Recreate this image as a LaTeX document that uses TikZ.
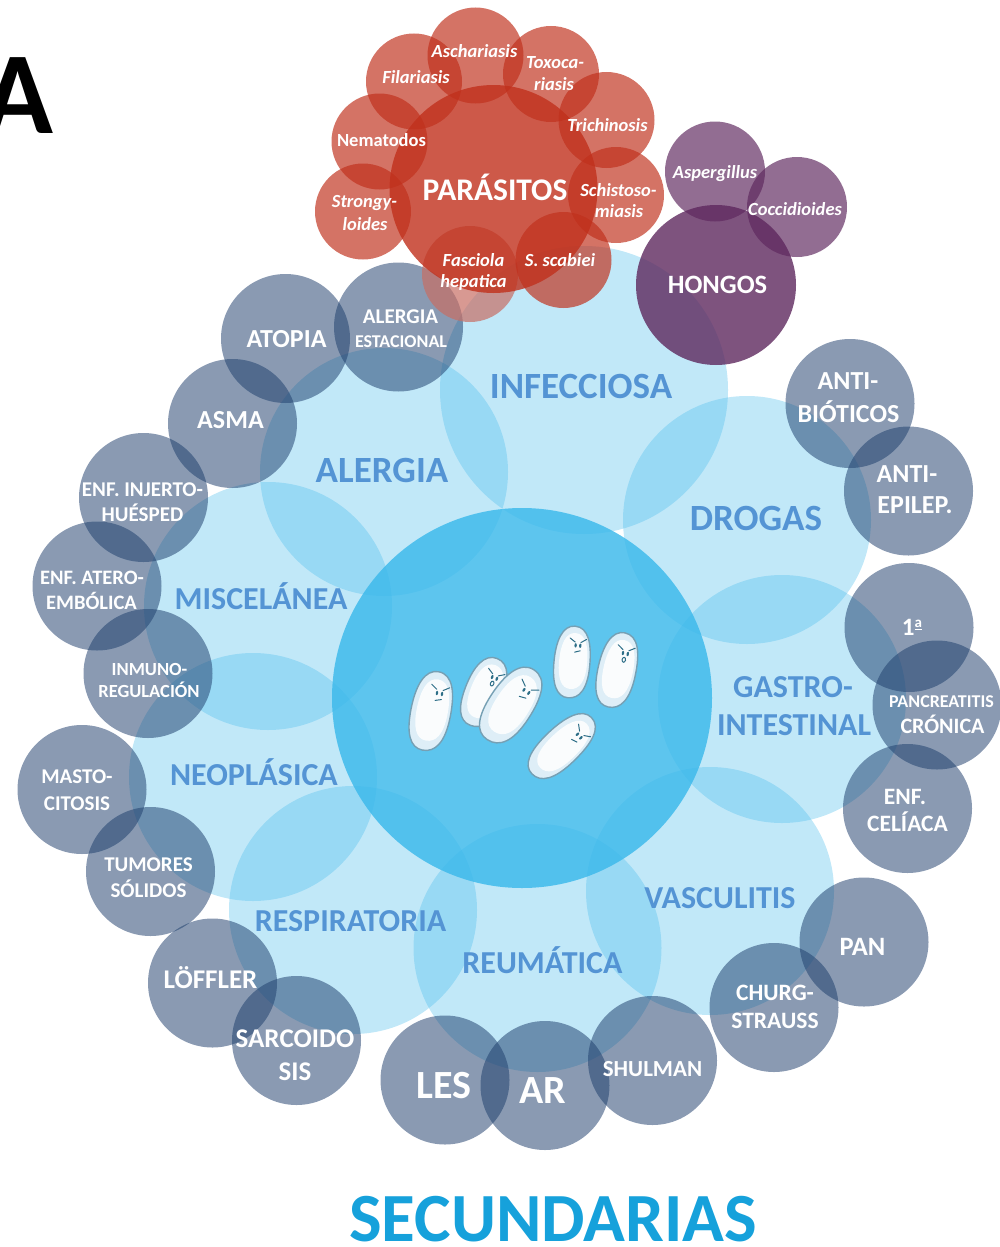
\documentclass[tikz,border=0pt]{standalone}
\usepackage{fontspec}
\setmainfont{Carlito}
\definecolor{skycat}{RGB}{77,189,236}
\definecolor{corecol}{RGB}{60,185,235}
\definecolor{slate}{RGB}{30,62,108}
\definecolor{rust}{RGB}{192,48,28}
\definecolor{rustpale}{RGB}{200,110,100}
\definecolor{plum}{RGB}{94,40,94}
\definecolor{catlabel}{RGB}{84,148,212}
\definecolor{titleblue}{RGB}{22,161,219}
\definecolor{cellfill}{RGB}{222,238,247}
\definecolor{cellrim}{RGB}{118,160,180}
\definecolor{cellface}{RGB}{45,110,135}
\newcommand\fsz[1]{\fontsize{#1}{#1}\selectfont}
% outline of a rod-shaped cell, half length #1, half width #2
\newcommand\rodpath[2]{(0,-#1) .. controls (0.75*#2,-#1) and (#2,-0.55*#1) .. (#2,0.05*#1)
  .. controls (#2,0.7*#1) and (0.6*#2,#1) .. (-0.05*#2,#1)
  .. controls (-0.7*#2,#1) and (-#2,0.65*#1) .. (-#2,0.05*#1)
  .. controls (-#2,-0.55*#1) and (-0.7*#2,-#1) .. (0,-#1) -- cycle}
% one cell: x, y, rotation, half length, half width, mouth (0 line, 1 open)
\newcommand\bug[6]{%
  \begin{scope}[shift={(#1,#2)},rotate=#3]
    \fill[cellfill] \rodpath{#4}{#5};
    \begin{scope}[shift={(0.06*#5,-0.03*#4)},scale=0.78]
      \fill[white, opacity=.85] \rodpath{#4}{#5};
    \end{scope}
    \draw[cellrim, line width=1.4] \rodpath{#4}{#5};
    \begin{scope}[cellface, line width=1, line cap=round]
      \draw (-0.22*#5,-0.66*#4) -- (0.08*#5,-0.56*#4);
      \draw (0.70*#5,-0.66*#4) -- (0.40*#5,-0.56*#4);
      \fill (0.12*#5,-0.47*#4) ellipse [x radius=1.2, y radius=2.2];
      \fill (0.38*#5,-0.47*#4) ellipse [x radius=1.2, y radius=2.2];
      \ifnum#6=1
        \draw (0.24*#5,-0.30*#4) ellipse [x radius=1.7, y radius=2.5];
      \else
        \draw (0.10*#5,-0.28*#4) -- (0.40*#5,-0.33*#4);
      \fi
    \end{scope}
  \end{scope}}
\begin{document}
\begin{tikzpicture}[x=1pt,y=-1pt,
  cat/.style={circle, inner sep=0, minimum size=248, fill=skycat, fill opacity=0.35},
  core/.style={circle, inner sep=0, minimum size=380, fill=corecol, fill opacity=0.83},
  dis/.style={circle, inner sep=0, minimum size=129, fill=slate, fill opacity=0.52},
  par/.style={circle, inner sep=0, minimum size=96, fill=rust, fill opacity=0.68},
  parbig/.style={circle, inner sep=0, minimum size=208, fill=rust, fill opacity=0.8},
  fun/.style={circle, inner sep=0, minimum size=100, fill=plum, fill opacity=0.68},
  funbig/.style={circle, inner sep=0, minimum size=160, fill=plum, fill opacity=0.8},
  catlbl/.style={anchor=base, inner sep=0, text=catlabel, font=\bfseries},
  wlbl/.style={anchor=base, inner sep=0, text=white, font=\bfseries},
  wital/.style={anchor=base, inner sep=0, text=white, font=\bfseries\itshape}]
\useasboundingbox (0,0) rectangle (1000,1247);

% disease categories around the core
\node[cat, minimum size=288] (infe) at (584,390) {};
\node[cat] (aler) at (384,472) {};
\node[cat] (drog) at (747,520) {};
\node[cat] (gast) at (782,699) {};
\node[cat] (vasc) at (710,891) {};
\node[cat] (reum) at (537.5,948) {};
\node[cat] (resp) at (353,910) {};
\node[cat] (neop) at (253,777) {};
\node[cat] (misc) at (268,606) {};
\node[core] (core) at (522,698) {};

% specific causes
\node[dis] (atop) at (285.5,338.5) {};
\node[dis] (aest) at (398.5,327) {};
\node[dis] (asma) at (232.5,423.5) {};
\node[dis] (injr) at (143.5,497.5) {};
\node[dis] (ater) at (97,586) {};
\node[dis] (inmu) at (148,673.5) {};
\node[dis] (mast) at (82,789.5) {};
\node[dis] (tumo) at (150.5,871.5) {};
\node[dis] (loef) at (212.5,983) {};
\node[dis] (sarc) at (296.5,1040.5) {};
\node[dis] (les)  at (445,1080) {};
\node[dis] (ar)   at (545,1085.5) {};
\node[dis] (shul) at (652.5,1060.5) {};
\node[dis] (chur) at (774,1007.5) {};
\node[dis] (pan)  at (864,942) {};
\node[dis] (celi) at (907.5,808.5) {};
\node[dis] (panc) at (937,705) {};
\node[dis] (prim) at (909,627.5) {};
\node[dis] (aepi) at (908.5,491) {};
\node[dis] (abio) at (850,403.5) {};

% parasites
\node[circle, inner sep=0, minimum size=96, fill=rustpale, fill opacity=0.7] (fasc) at (470,274) {};
\node[parbig] (para) at (493.5,189) {};
\node[par] (asch) at (475.5,55.5) {};
\node[par] (toxo) at (551,74) {};
\node[par] (fila) at (414,81.5) {};
\node[par] (tric) at (606.5,120) {};
\node[par] (nema) at (379.5,141.5) {};
\node[par] (schi) at (616,195) {};
\node[par] (stro) at (363,211.5) {};
\node[par] (scab) at (563.5,260) {};

% fungi
\node[funbig] (hong) at (716,285) {};
\node[fun] (aspe) at (715,171.5) {};
\node[fun] (cocc) at (797,207) {};

% cells in the core
\bug{431}{711}{-11}{40}{20}{0}
\bug{484}{692}{-21}{36}{19}{1}
\bug{511}{705}{-33}{42}{22}{0}
\bug{572}{662}{-5}{36}{18}{0}
\bug{617}{670}{-12}{38}{19}{1}
\bug{562}{746}{-46}{41}{19}{0}

% category names
\node[catlbl, font=\bfseries\fsz{37}] (t-infe) at (581,398) {INFECCIOSA};
\node[catlbl, font=\bfseries\fsz{37}] (t-aler) at (382,482) {ALERGIA};
\node[catlbl, font=\bfseries\fsz{37}] (t-drog) at (756,530) {DROGAS};
\node[catlbl, font=\bfseries\fsz{32}] (t-misc) at (261,609) {MISCELÁNEA};
\node[catlbl, font=\bfseries\fsz{32}] (t-neop) at (254,785) {NEOPLÁSICA};
\node[catlbl, font=\bfseries\fsz{32}] (t-gas1) at (793,697) {GASTRO-};
\node[catlbl, font=\bfseries\fsz{32}] (t-gas2) at (794,735) {INTESTINAL};
\node[catlbl, font=\bfseries\fsz{32}] (t-vasc) at (720,908) {VASCULITIS};
\node[catlbl, font=\bfseries\fsz{32}] (t-reum) at (542.5,973) {REUMÁTICA};
\node[catlbl, font=\bfseries\fsz{32}] (t-resp) at (350.5,931) {RESPIRATORIA};

% cause names
\node[wlbl, font=\bfseries\fsz{26}] (t-atop) at (286.5,347) {ATOPIA};
\node[wlbl, font=\bfseries\fsz{21}] (t-aes1) at (400.5,323) {ALERGIA};
\node[wlbl, font=\bfseries\fsz{18}] (t-aes2) at (401,347) {ESTACIONAL};
\node[wlbl, font=\bfseries\fsz{26}] (t-asma) at (230.5,428) {ASMA};
\node[wlbl, font=\bfseries\fsz{21}] (t-inj1) at (142.5,496) {ENF. INJERTO-};
\node[wlbl, font=\bfseries\fsz{21}] (t-inj2) at (142.5,521) {HUÉSPED};
\node[wlbl, font=\bfseries\fsz{20.5}] (t-ate1) at (92,584) {ENF. ATERO-};
\node[wlbl, font=\bfseries\fsz{20.5}] (t-ate2) at (91.5,609) {EMBÓLICA};
\node[wlbl, font=\bfseries\fsz{18.5}] (t-inm1) at (149.5,675) {INMUNO-};
\node[wlbl, font=\bfseries\fsz{18.5}] (t-inm2) at (149,697) {REGULACIÓN};
\node[wlbl, font=\bfseries\fsz{21}] (t-mas1) at (77,783) {MASTO-};
\node[wlbl, font=\bfseries\fsz{21}] (t-mas2) at (77,810) {CITOSIS};
\node[wlbl, font=\bfseries\fsz{21}] (t-tum1) at (148.5,871) {TUMORES};
\node[wlbl, font=\bfseries\fsz{21}] (t-tum2) at (148.5,897) {SÓLIDOS};
\node[wlbl, font=\bfseries\fsz{27}] (t-loef) at (210.5,988) {LÖFFLER};
\node[wlbl, font=\bfseries\fsz{27}] (t-sar1) at (295,1047) {SARCOIDO};
\node[wlbl, font=\bfseries\fsz{27}] (t-sar2) at (295,1080) {SIS};
\node[wlbl, font=\bfseries\fsz{40}] (t-les) at (444,1098) {LES};
\node[wlbl, font=\bfseries\fsz{40}] (t-ar) at (543,1103) {AR};
\node[wlbl, font=\bfseries\fsz{23}] (t-shul) at (652.5,1076) {SHULMAN};
\node[wlbl, font=\bfseries\fsz{23.5}] (t-chu1) at (775,1000) {CHURG-};
\node[wlbl, font=\bfseries\fsz{23.5}] (t-chu2) at (775,1028) {STRAUSS};
\node[wlbl, font=\bfseries\fsz{26.5}] (t-pan) at (862.5,955) {PAN};
\node[wlbl, font=\bfseries\fsz{23.5}] (t-cel1) at (905,804) {ENF.};
\node[wlbl, font=\bfseries\fsz{23.5}] (t-cel2) at (907.5,831) {CELÍACA};
\node[wlbl, font=\bfseries\fsz{18}] (t-pan1) at (941.5,707) {PANCREATITIS};
\node[wlbl, font=\bfseries\fsz{22}] (t-pan2) at (942.5,733) {CRÓNICA};
\node[wlbl, font=\bfseries\fsz{25}] (t-prim) at (912,635) {1\raisebox{7.5pt}{\fsz{15}\underline{a}}};
\node[wlbl, font=\bfseries\fsz{26}] (t-aep1) at (907,482) {ANTI-};
\node[wlbl, font=\bfseries\fsz{26}] (t-aep2) at (915,513) {EPILEP.};
\node[wlbl, font=\bfseries\fsz{26}] (t-abi1) at (848,389) {ANTI-};
\node[wlbl, font=\bfseries\fsz{26}] (t-abi2) at (848.5,422) {BIÓTICOS};

% parasite and fungus names
\node[wlbl, font=\bfseries\fsz{31.5}] (t-para) at (495,200) {PARÁSITOS};
\node[wital, font=\bfseries\itshape\fsz{18.5}] (t-asch) at (474.5,58) {Aschariasis};
\node[wital, font=\bfseries\itshape\fsz{18.5}] (t-tox1) at (555,68) {Toxoca-};
\node[wital, font=\bfseries\itshape\fsz{18.5}] (t-tox2) at (554,90) {riasis};
\node[wital, font=\bfseries\itshape\fsz{18.5}] (t-fila) at (416,83) {Filariasis};
\node[wital, font=\bfseries\itshape\fsz{18.5}] (t-tric) at (607.5,131) {Trichinosis};
\node[wlbl, font=\bfseries\fsz{18.5}] (t-nema) at (381.5,146) {Nematodos};
\node[wital, font=\bfseries\itshape\fsz{18.5}] (t-sch1) at (618.5,196) {Schistoso-};
\node[wital, font=\bfseries\itshape\fsz{18.5}] (t-sch2) at (619,217) {miasis};
\node[wital, font=\bfseries\itshape\fsz{18.5}] (t-str1) at (364.5,207) {Strongy-};
\node[wital, font=\bfseries\itshape\fsz{18.5}] (t-str2) at (365,230) {loides};
\node[wital, font=\bfseries\itshape\fsz{18.5}] (t-fas1) at (473.5,266) {Fasciola};
\node[wital, font=\bfseries\itshape\fsz{18.5}] (t-fas2) at (473.5,287) {hepatica};
\node[wital, font=\bfseries\itshape\fsz{18.5}] (t-scab) at (560,266) {S. scabiei};
\node[wlbl, font=\bfseries\fsz{26.5}] (t-hong) at (717.5,293) {HONGOS};
\node[wital, font=\bfseries\itshape\fsz{18.5}] (t-aspe) at (715,178) {Aspergillus};
\node[wital, font=\bfseries\itshape\fsz{18.5}] (t-cocc) at (795,215) {Coccidioides};

% panel letter and heading
\node[anchor=base, inner sep=0, font=\bfseries\fsz{117}] (panel) at (18,133) {A};
\node[anchor=base, inner sep=0, text=titleblue, font=\bfseries\fsz{69}] (heading) at (553,1241) {SECUNDARIAS};
\end{tikzpicture}
\end{document}
